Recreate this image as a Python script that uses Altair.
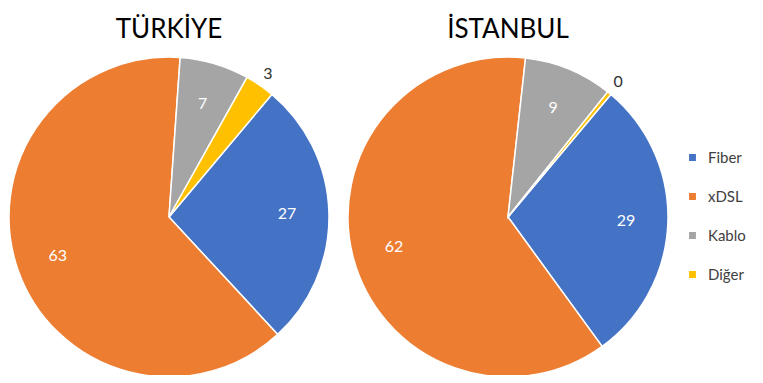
import math
import altair as alt
import pandas as pd

regions = ["TÜRKİYE", "İSTANBUL"]
categories = ["Fiber", "xDSL", "Kablo", "Diğer"]
turkiye_values = [27, 63, 7, 3]
istanbul_values = [29, 62, 9, 0.4]
colors = ["#4472C4", "#ED7D31", "#A5A5A5", "#FFC000"]

rows = []
for region, vals in zip(regions, [turkiye_values, istanbul_values]):
    for i, (cat, v) in enumerate(zip(categories, vals)):
        rows.append({"region": region, "category": cat, "value": v, "order": i})
df = pd.DataFrame(rows)
titles = pd.DataFrame({"region": regions})

start_angle = math.radians(40)
theta_scale = alt.Scale(domain=[0, 1], range=[start_angle, start_angle + 2 * math.pi])
x_scale = alt.Scale(type="point", domain=regions, range=[161, 500], padding=0)
FONT = "Lato"

base = (
    alt.Chart(df)
    .transform_joinaggregate(total="sum(value)", groupby=["region"])
    .transform_window(cum="sum(value)", groupby=["region"], sort=[alt.SortField("order")], frame=[None, 0])
    .transform_calculate(
        start="(datum.cum - datum.value) / datum.total",
        end="datum.cum / datum.total",
        mid="(datum.cum - datum.value / 2) / datum.total",
    )
)

arcs = base.mark_arc(radius=160, stroke="white", strokeWidth=1.5).encode(
    x=alt.X("region:N", scale=x_scale, axis=None),
    y=alt.value(209),
    theta=alt.Theta("start:Q", scale=theta_scale),
    theta2="end:Q",
    color=alt.Color(
        "category:N",
        scale=alt.Scale(domain=categories, range=colors),
        legend=alt.Legend(
            title=None,
            orient="none",
            legendX=677,
            legendY=142,
            symbolType="square",
            symbolSize=70,
            labelFontSize=15,
            labelFont=FONT,
            labelColor="#404040",
            rowPadding=23,
            labelOffset=8,
        ),
    ),
    order=alt.Order("order:Q"),
)

inside = base.transform_filter("datum.value >= 5").mark_text(
    radius=118, fontSize=16, font=FONT, color="white", align="center", baseline="middle"
).encode(
    x=alt.X("region:N", scale=x_scale, axis=None),
    y=alt.value(209),
    theta=alt.Theta("mid:Q", scale=theta_scale),
    text=alt.Text("value:Q", format=".0f"),
)

outside = base.transform_filter("datum.value < 5").mark_text(
    radius=174, fontSize=16, font=FONT, color="#303030", align="center", baseline="middle"
).encode(
    x=alt.X("region:N", scale=x_scale, axis=None),
    y=alt.value(209),
    theta=alt.Theta("mid:Q", scale=theta_scale),
    text=alt.Text("value:Q", format=".0f"),
)

title_text = alt.Chart(titles).mark_text(
    fontSize=26, font=FONT, color="black", align="center", baseline="middle"
).encode(
    x=alt.X("region:N", scale=x_scale, axis=None),
    y=alt.value(22),
    text="region:N",
)

chart = (
    alt.layer(arcs, inside, outside, title_text)
    .properties(width=747, height=367, padding=0, autosize="none")
    .configure_view(stroke=None)
)

chart.save("out.html", embed_options={"renderer": "svg", "actions": False})
